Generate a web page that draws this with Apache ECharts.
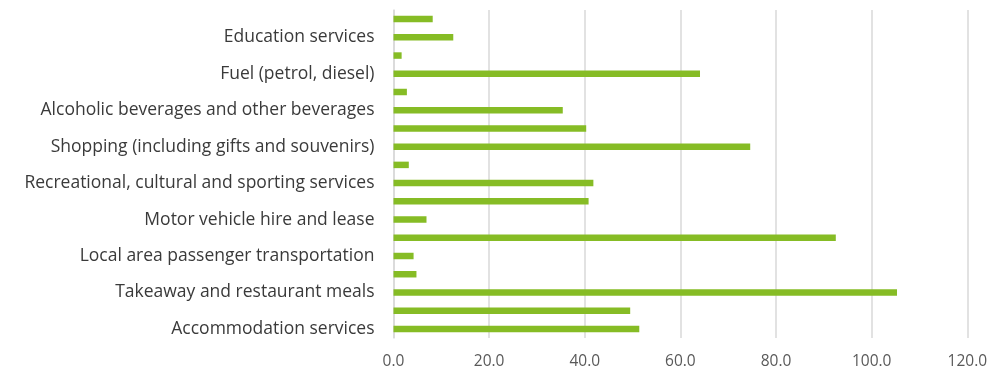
<!DOCTYPE html>
<html><head><meta charset="utf-8">
<script src="https://cdn.jsdelivr.net/npm/echarts@6/dist/echarts.min.js"></script>
<style>html,body{margin:0;padding:0;background:#fff}#c{width:1007px;height:371px}</style>
</head><body><div id="c"></div>
<script>
// categories bottom -> top; unlabeled rows are hidden by the axis label interval
const categories = [
  'Accommodation services', 'Item 2',
  'Takeaway and restaurant meals', 'Item 4',
  'Local area passenger transportation', 'Item 6',
  'Motor vehicle hire and lease', 'Item 8',
  'Recreational, cultural and sporting services', 'Item 10',
  'Shopping (including gifts and souvenirs)', 'Item 12',
  'Alcoholic beverages and other beverages', 'Item 14',
  'Fuel (petrol, diesel)', 'Item 16',
  'Education services', 'Item 18'
];
const values = [51.4, 49.5, 105.3, 4.8, 4.2, 92.5, 6.9, 40.8, 41.8, 3.2, 74.6, 40.3, 35.4, 2.8, 64.1, 1.7, 12.5, 8.2];
const xTicks = { min: 0, max: 120, interval: 20 };

const chart = echarts.init(document.getElementById('c'));
chart.setOption({
  animation: false,
  grid: { left: 393.5, right: 39.7, top: 10, bottom: 33, containLabel: false },
  xAxis: {
    type: 'value', min: xTicks.min, max: xTicks.max, interval: xTicks.interval,
    axisLine: { show: false }, axisTick: { show: false },
    splitLine: { lineStyle: { color: '#d9d9d9', width: 1.5 } },
    axisLabel: { formatter: v => v.toFixed(1), color: '#595959', fontSize: 15.5, fontFamily: 'Open Sans', margin: 16 }
  },
  yAxis: {
    type: 'category', data: categories,
    axisLine: { show: true, lineStyle: { color: '#d9d9d9', width: 1.5 } },
    axisTick: { show: false },
    axisLabel: { interval: 1, color: '#3a3a3a', fontSize: 17.5, fontFamily: 'Open Sans', margin: 19 }
  },
  series: [{
    type: 'bar', data: values, barWidth: 6.5,
    itemStyle: { color: '#86bc25' }
  }]
});
</script></body></html>
